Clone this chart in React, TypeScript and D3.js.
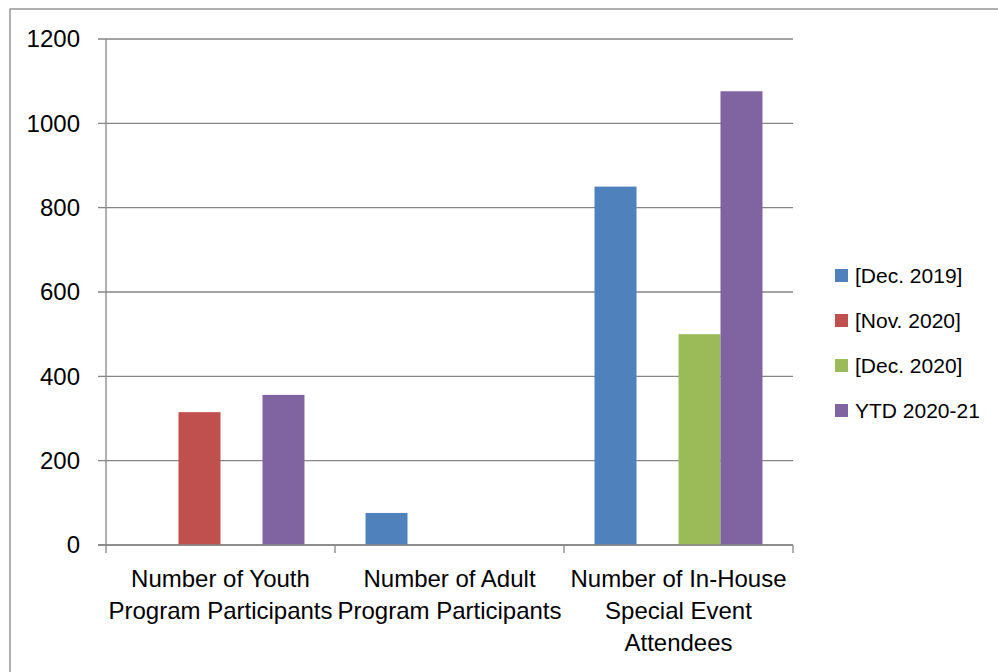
import React from "react";
import * as d3 from "d3";

const categories = [
  "Number of Youth Program Participants",
  "Number of Adult Program Participants",
  "Number of In-House Special Event Attendees",
];
const categoryLines = [
  ["Number of Youth", "Program Participants"],
  ["Number of Adult", "Program Participants"],
  ["Number of In-House", "Special Event", "Attendees"],
];
const seriesNames = ["[Dec. 2019]", "[Nov. 2020]", "[Dec. 2020]", "YTD 2020-21"];
const seriesColors = ["#4F81BD", "#C0504D", "#9BBB59", "#8064A2"];
const dec2019 = [0, 76, 850];
const nov2020 = [315, 0, 0];
const dec2020 = [0, 0, 500];
const ytd2021 = [356, 0, 1076];
const yTicks = [0, 200, 400, 600, 800, 1000, 1200];

const seriesValues = [dec2019, nov2020, dec2020, ytd2021];

const W = 998;
const H = 672;
const left = 106;
const right = 793;
const top = 39;
const bottom = 545;
const FONT = "'Liberation Sans', Arial, sans-serif";
const GRID = "#868686";

export default function App() {
  const x = d3.scaleBand<string>().domain(categories).range([left, right]).padding(0);
  const xs = d3
    .scaleBand<string>()
    .domain(seriesNames)
    .range([0, x.bandwidth()])
    .paddingInner(0)
    .paddingOuter(0.727);
  const y = d3.scaleLinear().domain([0, 1200]).range([bottom, top]);

  return (
    <svg
      width={W}
      height={H}
      style={{ position: "absolute", left: 0, top: 0, background: "#fff" }}
      fontFamily={FONT}
    >
      <rect x={10} y={9} width={W + 20} height={H + 20} fill="#fff" stroke={GRID} strokeWidth={1.3} />
      {yTicks.map((t) => (
        <g key={t}>
          <line x1={left - 8} x2={right} y1={y(t)} y2={y(t)} stroke={GRID} strokeWidth={1.3} />
          <text x={80} y={y(t)} dy="0.35em" textAnchor="end" fontSize={24} fill="#000">
            {t}
          </text>
        </g>
      ))}
      <line x1={left} x2={left} y1={top} y2={bottom} stroke={GRID} strokeWidth={1.3} />
      {[...categories.map((c) => x(c)!), right].map((p, i) => (
        <line key={i} x1={p} x2={p} y1={bottom} y2={bottom + 8} stroke={GRID} strokeWidth={1.3} />
      ))}
      {categories.map((c, ci) =>
        seriesNames.map((s, si) => {
          const v = seriesValues[si][ci];
          if (!v) return null;
          return (
            <rect
              key={c + s}
              x={x(c)! + xs(s)!}
              y={y(v)}
              width={xs.bandwidth()}
              height={y(0) - y(v)}
              fill={seriesColors[si]}
            />
          );
        })
      )}
      <line x1={left - 8} x2={right} y1={bottom} y2={bottom} stroke={GRID} strokeWidth={1.3} />
      {categories.map((c, ci) => (
        <text key={c} textAnchor="middle" fontSize={24} fill="#000">
          {categoryLines[ci].map((ln, li) => (
            <tspan key={li} x={x(c)! + x.bandwidth() / 2} y={587 + li * 32}>
              {ln}
            </tspan>
          ))}
        </text>
      ))}
      {seriesNames.map((s, si) => (
        <g key={s} transform={`translate(835, ${275.5 + si * 45})`}>
          <rect x={0} y={-6.5} width={13} height={13} fill={seriesColors[si]} />
          <text x={20} y={0} dy="0.35em" fontSize={21} fill="#000">
            {s}
          </text>
        </g>
      ))}
    </svg>
  );
}
